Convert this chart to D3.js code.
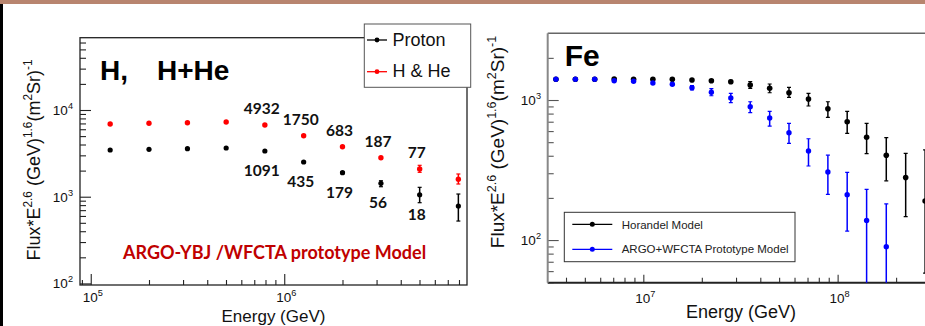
<!DOCTYPE html>
<html><head><meta charset="utf-8">
<script src="https://cdn.jsdelivr.net/npm/d3@7"></script>
<style>body{margin:0;background:#fff}svg{display:block}</style>
</head><body><svg id="c" width="925" height="326"></svg>
<script>
// ---- Left panel: proton and H+He spectra ----
const energyL = [1.26e5, 2.0e5, 3.16e5, 5.01e5, 7.94e5, 1.26e6, 2.0e6, 3.16e6, 5.01e6, 7.94e6];
const protonFlux = [3456, 3521, 3577, 3645, 3366, 2513, 1892, 1428, 1054, 781];
const protonLo   = [3456, 3521, 3577, 3645, 3366, 2480, 1840, 1304, 853, 524];
const protonHi   = [3456, 3521, 3577, 3645, 3366, 2550, 1945, 1529, 1283, 1074];
const hheFlux = [6895, 7025, 7137, 7272, 6714, 5053, 3773, 2818, 2087, 1587];
const hheLo   = [6895, 7025, 7137, 7272, 6714, 5053, 3773, 2740, 1911, 1401];
const hheHi   = [6895, 7025, 7137, 7272, 6714, 5053, 3773, 2900, 2302, 1828];
// event counts printed next to the last bins
const countBins = [4, 5, 6, 7, 8];
const hheCounts = ["4932", "1750", "683", "187", "77"];
const protonCounts = ["1091", "435", "179", "56", "18"];
const legendL = ["Proton", "H & He"];
const yExpL = [2, 3, 4];
const xExpL = [5, 6];

// ---- Right panel: iron spectra ----
const energyR = [3.55e6, 4.47e6, 5.62e6, 7.08e6, 8.91e6, 1.12e7, 1.41e7, 1.78e7, 2.24e7, 2.82e7,
                 3.55e7, 4.47e7, 5.62e7, 7.08e7, 8.91e7, 1.12e8, 1.41e8, 1.78e8, 2.24e8, 2.82e8];
const horandel   = [1406, 1406, 1406, 1412, 1406, 1406, 1406, 1389, 1374, 1351, 1280, 1212, 1127, 1017, 867, 700, 542, 403, 280, 190];
const horandelLo = [1400, 1400, 1400, 1395, 1390, 1390, 1390, 1370, 1350, 1318, 1212, 1127, 1045, 906, 752, 578, 414, 265, 147, 58];
const horandelHi = [1412, 1412, 1412, 1430, 1422, 1422, 1422, 1408, 1398, 1384, 1351, 1301, 1232, 1116, 972, 830, 681, 538, 416, 440];
const argoFe   = [1406, 1406, 1406, 1374, 1360, 1323, 1295, 1224, 1135, 1033, 896, 744, 584, 432, 306, 211, 138, 89.5, null, null];
const argoFeLo = [1400, 1400, 1400, 1362, 1345, 1305, 1270, 1180, 1073, 957, 812, 652, 490, 338, 212, 116, 40, 40, null, null];
const argoFeHi = [1412, 1412, 1412, 1386, 1375, 1341, 1320, 1270, 1205, 1116, 972, 830, 681, 529, 404, 304, 230, 181, null, null];
const legendR = ["Horandel Model", "ARGO+WFCTA Prototype Model"];
const yExpR = [2, 3];
const xExpR = [7, 8];

const svg = d3.select("#c");
const SANS = "'Liberation Sans', Arial, sans-serif";

// page decorations
svg.append("rect").attr("x", 0).attr("y", 0).attr("width", 925).attr("height", 4).attr("fill", "#b8856f");
svg.append("rect").attr("x", 0).attr("y", 4).attr("width", 3).attr("height", 322).attr("fill", "#000");

function powLabel(g, x, y, exp, anchor, size) {
  const t = g.append("text").attr("x", x).attr("y", y).attr("text-anchor", anchor)
    .attr("font-family", SANS).attr("font-size", size).attr("fill", "#111");
  t.append("tspan").text("10");
  t.append("tspan").attr("dy", -size * 0.45).attr("font-size", size * 0.68).text(exp);
  return t;
}

function fluxTitle(g, x, y, size) {
  const t = g.append("text").attr("transform", `translate(${x},${y}) rotate(-90)`)
    .attr("text-anchor", "middle").attr("font-family", SANS).attr("font-size", size).attr("fill", "#111");
  const s = size * 0.66, up = -size * 0.42;
  t.append("tspan").text("Flux*E");
  t.append("tspan").attr("dy", up).attr("font-size", s).text("2.6");
  t.append("tspan").attr("dy", -up).text(" (GeV)");
  t.append("tspan").attr("dy", up).attr("font-size", s).text("1.6");
  t.append("tspan").attr("dy", -up).text("(m");
  t.append("tspan").attr("dy", up).attr("font-size", s).text("2");
  t.append("tspan").attr("dy", -up).text("Sr)");
  t.append("tspan").attr("dy", up).attr("font-size", s).text("-1");
}

function isDecade(v) { const l = Math.log10(v); return Math.abs(l - Math.round(l)) < 1e-9; }

function logTicksY(g, scale, x, majLen, minLen, color) {
  const all = scale.ticks();
  const maj = all.filter(isDecade), min = all.filter(v => !isDecade(v));
  [[min, minLen], [maj, majLen]].forEach(([vals, len]) => {
    g.append("g").attr("transform", `translate(${x},0)`)
      .call(d3.axisRight(scale).tickValues(vals).tickSize(len).tickFormat(""))
      .call(s => { s.select(".domain").remove(); s.selectAll("line").attr("stroke", color).attr("stroke-width", 1.1); });
  });
}
function logTicksX(g, scale, y, majLen, minLen, color) {
  const all = scale.ticks();
  const maj = all.filter(isDecade), min = all.filter(v => !isDecade(v));
  [[min, minLen], [maj, majLen]].forEach(([vals, len]) => {
    g.append("g").attr("transform", `translate(0,${y})`)
      .call(d3.axisTop(scale).tickValues(vals).tickSize(len).tickFormat(""))
      .call(s => { s.select(".domain").remove(); s.selectAll("line").attr("stroke", color).attr("stroke-width", 1.1); });
  });
}

function errorBars(g, xs, vals, lo, hi, xScale, yScale, color, cap) {
  const idx = vals.map((v, i) => i).filter(i => vals[i] != null && hi[i] - lo[i] > 0);
  g.selectAll(null).data(idx).enter().append("line")
    .attr("x1", i => xScale(xs[i])).attr("x2", i => xScale(xs[i]))
    .attr("y1", i => yScale(lo[i])).attr("y2", i => yScale(hi[i]))
    .attr("stroke", color).attr("stroke-width", 1.5);
  [lo, hi].forEach(arr => {
    g.selectAll(null).data(idx).enter().append("line")
      .attr("x1", i => xScale(xs[i]) - cap).attr("x2", i => xScale(xs[i]) + cap)
      .attr("y1", i => yScale(arr[i])).attr("y2", i => yScale(arr[i]))
      .attr("stroke", color).attr("stroke-width", 1.2);
  });
}
function dots(g, xs, vals, xScale, yScale, color, r) {
  const idx = vals.map((v, i) => i).filter(i => vals[i] != null);
  g.selectAll(null).data(idx).enter().append("circle")
    .attr("cx", i => xScale(xs[i])).attr("cy", i => yScale(vals[i])).attr("r", r).attr("fill", color);
}

// ================= Left panel =================
const L = { left: 80, right: 467, top: 37.7, bottom: 285 };
const xL = d3.scaleLog().domain([8.8e4, 8.8e6]).range([L.left, L.right]);
const yL = d3.scaleLog().domain([95.9, 6.82e4]).range([L.bottom, L.top]);
const gL = svg.append("g");

gL.append("rect").attr("x", L.left).attr("y", L.top).attr("width", L.right - L.left).attr("height", L.bottom - L.top)
  .attr("fill", "none").attr("stroke", "#222").attr("stroke-width", 1.3);
logTicksY(gL, yL, L.left, 11, 6, "#222");
logTicksX(gL, xL, L.bottom, 11, 5, "#222");
yExpL.forEach(e => powLabel(gL, 73, yL(Math.pow(10, e)) + 5, e, "end", 13.5));
xExpL.forEach(e => powLabel(gL, xL(Math.pow(10, e)) + 2, 302, e, "middle", 13.5));
gL.append("text").attr("x", (L.left + L.right) / 2).attr("y", 322).attr("text-anchor", "middle")
  .attr("font-family", SANS).attr("font-size", 17).attr("fill", "#111").text("Energy (GeV)");
fluxTitle(gL, 40, 160, 18);

errorBars(gL, energyL, protonFlux, protonLo, protonHi, xL, yL, "#000", 2);
errorBars(gL, energyL, hheFlux, hheLo, hheHi, xL, yL, "#f00", 2);
dots(gL, energyL, protonFlux, xL, yL, "#000", 2.6);
dots(gL, energyL, hheFlux, xL, yL, "#f00", 2.7);

const NUMFONT = "Lato, 'Open Sans', sans-serif";
gL.selectAll(null).data(countBins).enter().append("text")
  .attr("x", (b, k) => xL(energyL[b]) - 3).attr("y", b => yL(hheFlux[b]) - 11)
  .attr("text-anchor", "middle").attr("font-family", NUMFONT).attr("font-weight", 700)
  .attr("font-size", 15.5).attr("fill", "#111").text((b, k) => hheCounts[k]);
gL.selectAll(null).data(countBins).enter().append("text")
  .attr("x", (b, k) => xL(energyL[b]) - 3).attr("y", b => yL(protonFlux[b]) + 25)
  .attr("text-anchor", "middle").attr("font-family", NUMFONT).attr("font-weight", 700)
  .attr("font-size", 15.5).attr("fill", "#111").text((b, k) => protonCounts[k]);

const title = gL.append("text").attr("y", 80).attr("font-family", SANS).attr("font-weight", 700)
  .attr("font-size", 28).attr("fill", "#000");
title.append("tspan").attr("x", 100).text("H,");
title.append("tspan").attr("x", 157).text("H+He");

gL.append("text").attr("x", 123).attr("y", 258.5).attr("font-family", NUMFONT).attr("font-weight", 700)
  .attr("font-size", 18).attr("fill", "#c00000").text("ARGO-YBJ /WFCTA prototype Model");

// legend
const lgL = gL.append("g");
lgL.append("rect").attr("x", 364.3).attr("y", 24).attr("width", 106.4).attr("height", 63.3)
  .attr("fill", "#fff").attr("stroke", "#555").attr("stroke-width", 1);
[["#000", 40, 46], ["#f00", 71.7, 77.3]].forEach(([c, ly, ty], i) => {
  lgL.append("line").attr("x1", 367).attr("x2", 387).attr("y1", ly).attr("y2", ly).attr("stroke", c).attr("stroke-width", 1.3);
  lgL.append("circle").attr("cx", 377).attr("cy", ly).attr("r", 2.4).attr("fill", c);
  lgL.append("text").attr("x", 392.5).attr("y", ty).attr("font-family", SANS).attr("font-size", 18)
    .attr("fill", "#111").text(legendL[i]);
});

// ================= Right panel =================
const R = { left: 547.7, top: 33.3, bottom: 282.7 };
const decR = 194.3;
const xRdom = [3.22e6, 3.5e8];
const xR = d3.scaleLog().domain(xRdom).range([R.left, R.left + decR * Math.log10(xRdom[1] / xRdom[0])]);
const yR = d3.scaleLog().domain([49.6, 2995]).range([R.bottom, R.top]);
const gR = svg.append("g");

svg.append("defs").append("clipPath").attr("id", "clipR").append("rect")
  .attr("x", R.left).attr("y", R.top).attr("width", 925 - R.left).attr("height", R.bottom - R.top);

logTicksY(gR, yR, R.left, 11, 6, "#555");
logTicksX(gR, xR, R.bottom, 8, 5, "#333");
gR.append("line").attr("x1", R.left).attr("x2", 925).attr("y1", R.top).attr("y2", R.top).attr("stroke", "#666").attr("stroke-width", 1.5);
gR.append("line").attr("x1", R.left).attr("x2", 925).attr("y1", R.bottom).attr("y2", R.bottom).attr("stroke", "#222").attr("stroke-width", 2);
gR.append("line").attr("x1", R.left).attr("x2", R.left).attr("y1", R.top).attr("y2", R.bottom).attr("stroke", "#888").attr("stroke-width", 2);
yExpR.forEach(e => powLabel(gR, 541, yR(Math.pow(10, e)) + 5, e, "end", 13.5));
xExpR.forEach(e => powLabel(gR, xR(Math.pow(10, e)) + 2, 303, e, "middle", 13.5));
gR.append("text").attr("x", 741).attr("y", 318).attr("text-anchor", "middle")
  .attr("font-family", SANS).attr("font-size", 18).attr("fill", "#111").text("Energy (GeV)");
fluxTitle(gR, 503.5, 142, 19);

const dataR = gR.append("g").attr("clip-path", "url(#clipR)");
errorBars(dataR, energyR, horandel, horandelLo, horandelHi, xR, yR, "#000", 2);
dots(dataR, energyR, horandel, xR, yR, "#000", 2.8);
errorBars(dataR, energyR, argoFe, argoFeLo, argoFeHi, xR, yR, "#0000ff", 2);
dots(dataR, energyR, argoFe, xR, yR, "#0000ff", 2.7);

gR.append("text").attr("x", 564.7).attr("y", 65.7).attr("font-family", SANS).attr("font-weight", 700)
  .attr("font-size", 30).attr("fill", "#000").text("Fe");

const lgR = gR.append("g");
lgR.append("rect").attr("x", 564.3).attr("y", 212.3).attr("width", 230.7).attr("height", 49.4)
  .attr("fill", "#fff").attr("stroke", "#333").attr("stroke-width", 1);
[["#000", 224.3, 229], ["#0000ff", 249.3, 253.3]].forEach(([c, ly, ty], i) => {
  lgR.append("line").attr("x1", 572.3).attr("x2", 612.3).attr("y1", ly).attr("y2", ly).attr("stroke", c).attr("stroke-width", 1.3);
  lgR.append("circle").attr("cx", 592.3).attr("cy", ly).attr("r", 2.5).attr("fill", c);
  lgR.append("text").attr("x", 621.7).attr("y", ty).attr("font-family", SANS).attr("font-size", 11.5)
    .attr("fill", "#222").text(legendR[i]);
});
</script></body></html>
